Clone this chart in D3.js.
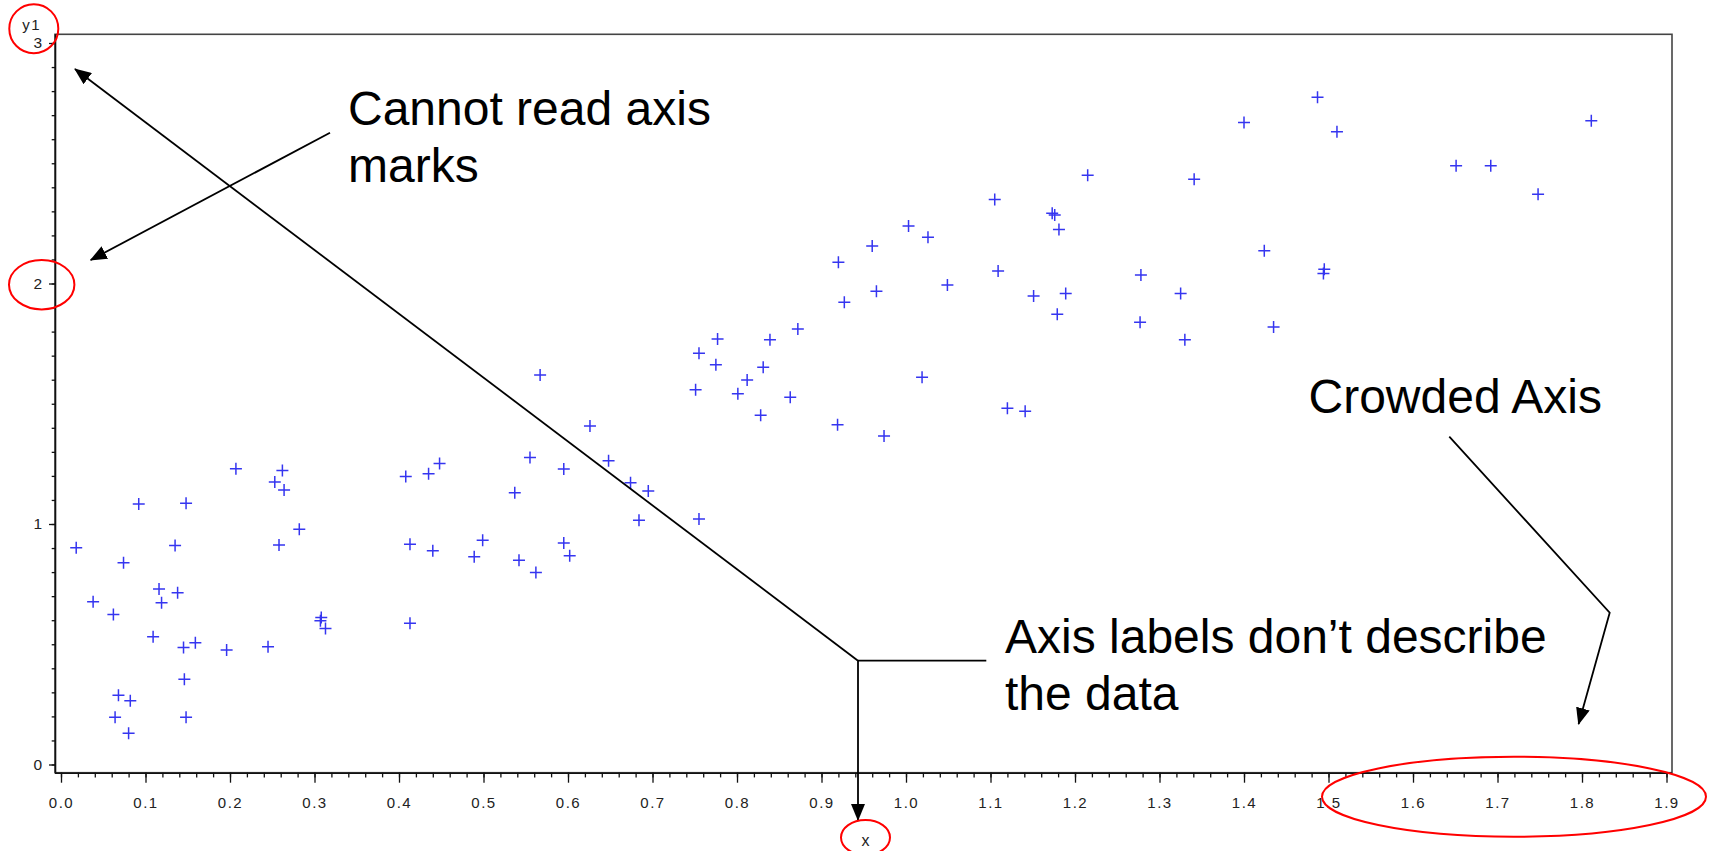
<!DOCTYPE html>
<html>
<head>
<meta charset="utf-8">
<script src="https://cdn.jsdelivr.net/npm/d3@7"></script>
<style>
  html, body { margin: 0; padding: 0; background: #fff; }
  svg { display: block; }
  .tick text { font-family: "Liberation Sans", Arial, sans-serif; fill: #222; }
  .note { font-family: "Liberation Sans", Arial, sans-serif; font-size: 48px; fill: #000; }
</style>
</head>
<body>
<svg id="chart" width="1710" height="851"></svg>
<script>
// Scatter of y1 against x
const xValues = [
  0.092, 0.148, 0.018, 0.135, 0.258, 0.282, 0.074, 0.038, 0.062, 0.116,
  0.119, 0.138, 0.109, 0.145, 0.159, 0.196, 0.245, 0.308, 0.307, 0.313,
  0.413, 0.413, 0.440, 0.489, 0.499, 0.542, 0.562, 0.595, 0.602, 0.146,
  0.068, 0.082, 0.064, 0.148, 0.080,
  0.207, 0.262, 0.253, 0.264,
  0.567, 0.626, 0.555, 0.595, 0.648, 0.674, 0.695, 0.684, 0.537, 0.408,
  0.435, 0.448, 0.755,
  0.777, 0.755, 0.775, 0.839, 0.872, 0.831, 0.812, 0.801, 0.751, 0.863,
  0.828, 0.919, 0.974, 1.019, 1.120, 1.141, 0.927, 0.965, 1.049, 1.151,
  1.189, 1.179, 1.277, 1.325, 1.330,
  1.215, 1.105, 1.173, 1.176, 1.181, 1.003, 1.026, 0.960, 0.920, 1.109,
  1.487, 1.400, 1.510, 1.811, 1.651, 1.692, 1.748, 1.341, 1.424, 1.278,
  1.495, 1.494, 1.435
];
const yValues = [
  1.083, 1.086, 0.901, 0.911, 0.913, 0.978, 0.839, 0.677, 0.624, 0.730,
  0.673, 0.714, 0.531, 0.487, 0.506, 0.476, 0.490, 0.611, 0.598, 0.566,
  0.587, 0.916, 0.889, 0.864, 0.932, 0.849, 0.798, 0.921, 0.868, 0.354,
  0.288, 0.265, 0.196, 0.196, 0.130,
  1.230, 1.222, 1.175, 1.141,
  1.620, 1.408, 1.276, 1.229, 1.263, 1.172, 1.137, 1.016, 1.130, 1.197,
  1.209, 1.252, 1.021,
  1.769, 1.710, 1.662, 1.766, 1.811, 1.652, 1.599, 1.542, 1.558, 1.527,
  1.452, 1.413, 1.366, 1.610, 1.481, 1.469, 1.922, 1.968, 1.994, 1.948,
  1.958, 1.872, 1.839, 1.958, 1.766,
  2.450, 2.349, 2.292, 2.285, 2.225, 2.239, 2.192, 2.156, 2.088, 2.052,
  2.774, 2.669, 2.631, 2.677, 2.490, 2.490, 2.371, 2.433, 2.136, 2.035,
  2.059, 2.042, 1.819
];

const xTickValues = [0, 0.1, 0.2, 0.3, 0.4, 0.5, 0.6, 0.7, 0.8, 0.9,
                     1.0, 1.1, 1.2, 1.3, 1.4, 1.5, 1.6, 1.7, 1.8, 1.9];
const xTickLabels = ["0.0", "0.1", "0.2", "0.3", "0.4", "0.5", "0.6", "0.7", "0.8", "0.9",
                     "1.0", "1.1", "1.2", "1.3", "1.4", "1.5", "1.6", "1.7", "1.8", "1.9"];
const yTickValues = [0, 1, 2, 3];
const yTickLabels = ["0", "1", "2", "3"];
const xAxisTitle = "x";
const yAxisTitle = "y1";

const notes = [
  { lines: ["Cannot read axis", "marks"], x: 348, y: 125, dy: 56.7 },
  { lines: ["Axis labels don\u2019t describe", "the data"], x: 1005, y: 652.7, dy: 57.5 },
  { lines: ["Crowded Axis"], x: 1308.5, y: 413.3, dy: 0 }
];

const svg = d3.select("#chart");

// plot frame
const plotLeft = 55, plotRight = 1672, plotTop = 34.3, plotBottom = 772.7;
const x = d3.scaleLinear().domain([-0.0071, 1.9065]).range([plotLeft, plotRight]);
const y = d3.scaleLinear().domain([-0.0341, 3.0362]).range([plotBottom, plotTop]);

svg.append("rect")
  .attr("x", plotLeft).attr("y", plotTop)
  .attr("width", plotRight - plotLeft).attr("height", plotBottom - plotTop)
  .attr("fill", "none").attr("stroke", "#444").attr("stroke-width", 1.6);

// minor ticks
const xMinor = d3.range(0, 96).map(i => i * 0.02);
const yMinor = d3.range(0, 31).map(i => i * 0.1);

svg.append("g")
  .attr("transform", `translate(0,${plotBottom})`)
  .call(d3.axisBottom(x).tickValues(xMinor).tickSize(4.7).tickSizeOuter(0).tickFormat(""))
  .call(g => g.select(".domain").remove())
  .selectAll("line").attr("stroke", "#111").attr("stroke-width", 1.3);

svg.append("g")
  .attr("transform", `translate(${plotLeft},0)`)
  .call(d3.axisLeft(y).tickValues(yMinor).tickSize(3.3).tickSizeOuter(0).tickFormat(""))
  .call(g => g.select(".domain").remove())
  .selectAll("line").attr("stroke", "#111").attr("stroke-width", 1.3);

// major ticks with labels
const xAxis = svg.append("g")
  .attr("transform", `translate(0,${plotBottom})`)
  .call(d3.axisBottom(x).tickValues(xTickValues).tickSize(10).tickSizeOuter(0)
        .tickPadding(15).tickFormat((d, i) => xTickLabels[i]));
xAxis.select(".domain").attr("stroke", "#111").attr("stroke-width", 1.6)
  .attr("d", `M${plotLeft},0.5H${plotRight}`);
xAxis.selectAll("line").attr("stroke", "#111").attr("stroke-width", 1.3);
xAxis.selectAll("text").attr("font-size", 15).style("letter-spacing", "1.5px");

const yAxis = svg.append("g")
  .attr("transform", `translate(${plotLeft},0)`)
  .call(d3.axisLeft(y).tickValues(yTickValues).tickSize(6).tickSizeOuter(0)
        .tickPadding(7).tickFormat((d, i) => yTickLabels[i]));
yAxis.select(".domain").attr("stroke", "#111").attr("stroke-width", 1.6)
  .attr("d", `M0.5,${plotTop}V${plotBottom}`);
yAxis.selectAll("line").attr("stroke", "#111").attr("stroke-width", 1.3);
yAxis.selectAll("text").attr("font-size", 15.5);

// axis titles
svg.append("text").text(yAxisTitle)
  .attr("x", 31.7).attr("y", 29.5).attr("text-anchor", "middle")
  .attr("font-family", "Liberation Sans, Arial, sans-serif").attr("font-size", 15)
  .style("letter-spacing", "1.5px").attr("fill", "#222");
svg.append("text").text(xAxisTitle)
  .attr("x", 865.5).attr("y", 846).attr("text-anchor", "middle")
  .attr("font-family", "Liberation Sans, Arial, sans-serif").attr("font-size", 16)
  .attr("fill", "#222");

// data markers: "+" crosses
const pts = xValues.map((v, i) => [v, yValues[i]]);
const half = 6;
svg.append("g")
  .attr("stroke", "#3535f0").attr("stroke-width", 1.5).attr("fill", "none")
  .selectAll("path").data(pts).join("path")
  .attr("d", d => {
    const cx = x(d[0]), cy = y(d[1]);
    return `M${cx - half},${cy}H${cx + half}M${cx},${cy - half}V${cy + half}`;
  });

// annotation arrows
const defs = svg.append("defs");
defs.append("marker")
  .attr("id", "head").attr("markerUnits", "userSpaceOnUse")
  .attr("viewBox", "0 0 17 14").attr("refX", 16).attr("refY", 7)
  .attr("markerWidth", 17).attr("markerHeight", 14).attr("orient", "auto")
  .append("path").attr("d", "M0,0L17,7L0,14Z").attr("fill", "#000");

const line = d3.line();
const arrows = [
  [[330, 132.7], [90.7, 260]],
  [[858, 660.7], [75, 69]],
  [[986.3, 660.7], [858, 660.7]],
  [[858, 660.7], [858, 820]],
  [[1449.3, 436.7], [1609.7, 612.7], [1578.6, 724]]
];
svg.append("g").selectAll("path").data(arrows).join("path")
  .attr("d", d => line(d))
  .attr("fill", "none").attr("stroke", "#000").attr("stroke-width", 1.8)
  .attr("marker-end", (d, i) => i === 2 ? null : "url(#head)");

// annotation text
notes.forEach(n => {
  const t = svg.append("text").attr("class", "note");
  n.lines.forEach((s, i) => {
    t.append("tspan").attr("x", n.x).attr("y", n.y + i * n.dy).text(s);
  });
});

// red highlight ellipses
const rings = [
  { cx: 33.8, cy: 28.7, rx: 24.5, ry: 24.5 },
  { cx: 41.7, cy: 284.7, rx: 32.7, ry: 24.7 },
  { cx: 865.5, cy: 837.5, rx: 24.5, ry: 17.5 },
  { cx: 1514, cy: 796.7, rx: 192, ry: 40 }
];
svg.append("g").selectAll("ellipse").data(rings).join("ellipse")
  .attr("cx", d => d.cx).attr("cy", d => d.cy)
  .attr("rx", d => d.rx).attr("ry", d => d.ry)
  .attr("fill", "none").attr("stroke", "#f00").attr("stroke-width", 2);
</script>
</body>
</html>
